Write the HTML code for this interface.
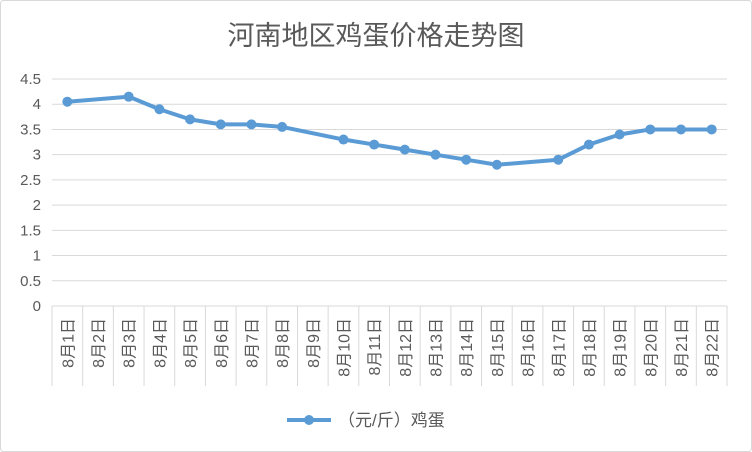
<!DOCTYPE html>
<html><head><meta charset="utf-8"><style>
body{margin:0;background:#fff}
svg{display:block;font-family:"Liberation Sans","Noto Sans CJK SC",sans-serif}
</style></head><body>
<svg id="c" width="752" height="452">
<rect x="0.5" y="0.5" width="751" height="451" rx="3" fill="#fff" stroke="#d9d9d9"/>
<text x="376" y="45" text-anchor="middle" font-size="27" fill="#595959">河南地区鸡蛋价格走势图</text>
<g id="grid"></g><g id="yt"></g><g id="xt"></g><g id="ser"></g>
<g>
<line x1="287" y1="420" x2="331" y2="420" stroke="#5b9bd5" stroke-width="4"/>
<circle cx="309" cy="420" r="5" fill="#5b9bd5"/>
<text x="338" y="426" font-size="17" fill="#595959">（元/斤）鸡蛋</text>
</g>
</svg>
<script>
const categories=["8月1日","8月2日","8月3日","8月4日","8月5日","8月6日","8月7日","8月8日","8月9日","8月10日","8月11日","8月12日","8月13日","8月14日","8月15日","8月16日","8月17日","8月18日","8月19日","8月20日","8月21日","8月22日"];
const prices=[4.05,null,4.15,3.9,3.7,3.6,3.6,3.55,null,3.3,3.2,3.1,3.0,2.9,2.8,null,2.9,3.2,3.4,3.5,3.5,3.5];
const yTicks=["0","0.5","1","1.5","2","2.5","3","3.5","4","4.5"];
const NS="http://www.w3.org/2000/svg";
const L=52,R=727,T=79,B=306,yMax=4.5;
const bw=(R-L)/categories.length;
const x=i=>L+bw*(i+0.5);
const y=v=>B-(v/yMax)*(B-T);
function mk(t,a,p){const e=document.createElementNS(NS,t);for(const k in a)e.setAttribute(k,a[k]);p.appendChild(e);return e;}
const g=document.getElementById('grid'),yt=document.getElementById('yt'),xt=document.getElementById('xt'),s=document.getElementById('ser');
yTicks.forEach(t=>{const v=parseFloat(t);
const ln=mk('line',{x1:L,x2:R,y1:y(v),y2:y(v),stroke:'#d9d9d9'},g);


const tx=mk('text',{x:41,y:y(v)+5,'text-anchor':'end','font-size':15,fill:'#595959'},yt);
tx.textContent=t;

});
for(let i=0;i<=categories.length;i++){const xx=L+bw*i;
const ln=mk('line',{x1:xx,x2:xx,y1:B,y2:386,stroke:'#d9d9d9'},g);

}
categories.forEach((c,i)=>{const tx=mk('text',{transform:`translate(${x(i)+6},${B+12}) rotate(-90)`,'text-anchor':'end','font-size':16,fill:'#595959'},xt);
tx.textContent=c;

});
const pts=[];prices.forEach((v,i)=>{if(v!=null)pts.push([x(i),y(v)]);});
const pl=mk('polyline',{points:pts.map(p=>p.join(',')).join(' '),fill:'none',stroke:'#5b9bd5','stroke-width':4,'stroke-linejoin':'round'},s);


pts.forEach(p=>{const c=mk('circle',{cx:p[0],cy:p[1],r:5,fill:'#5b9bd5'},s);

});
</script>
</body></html>
